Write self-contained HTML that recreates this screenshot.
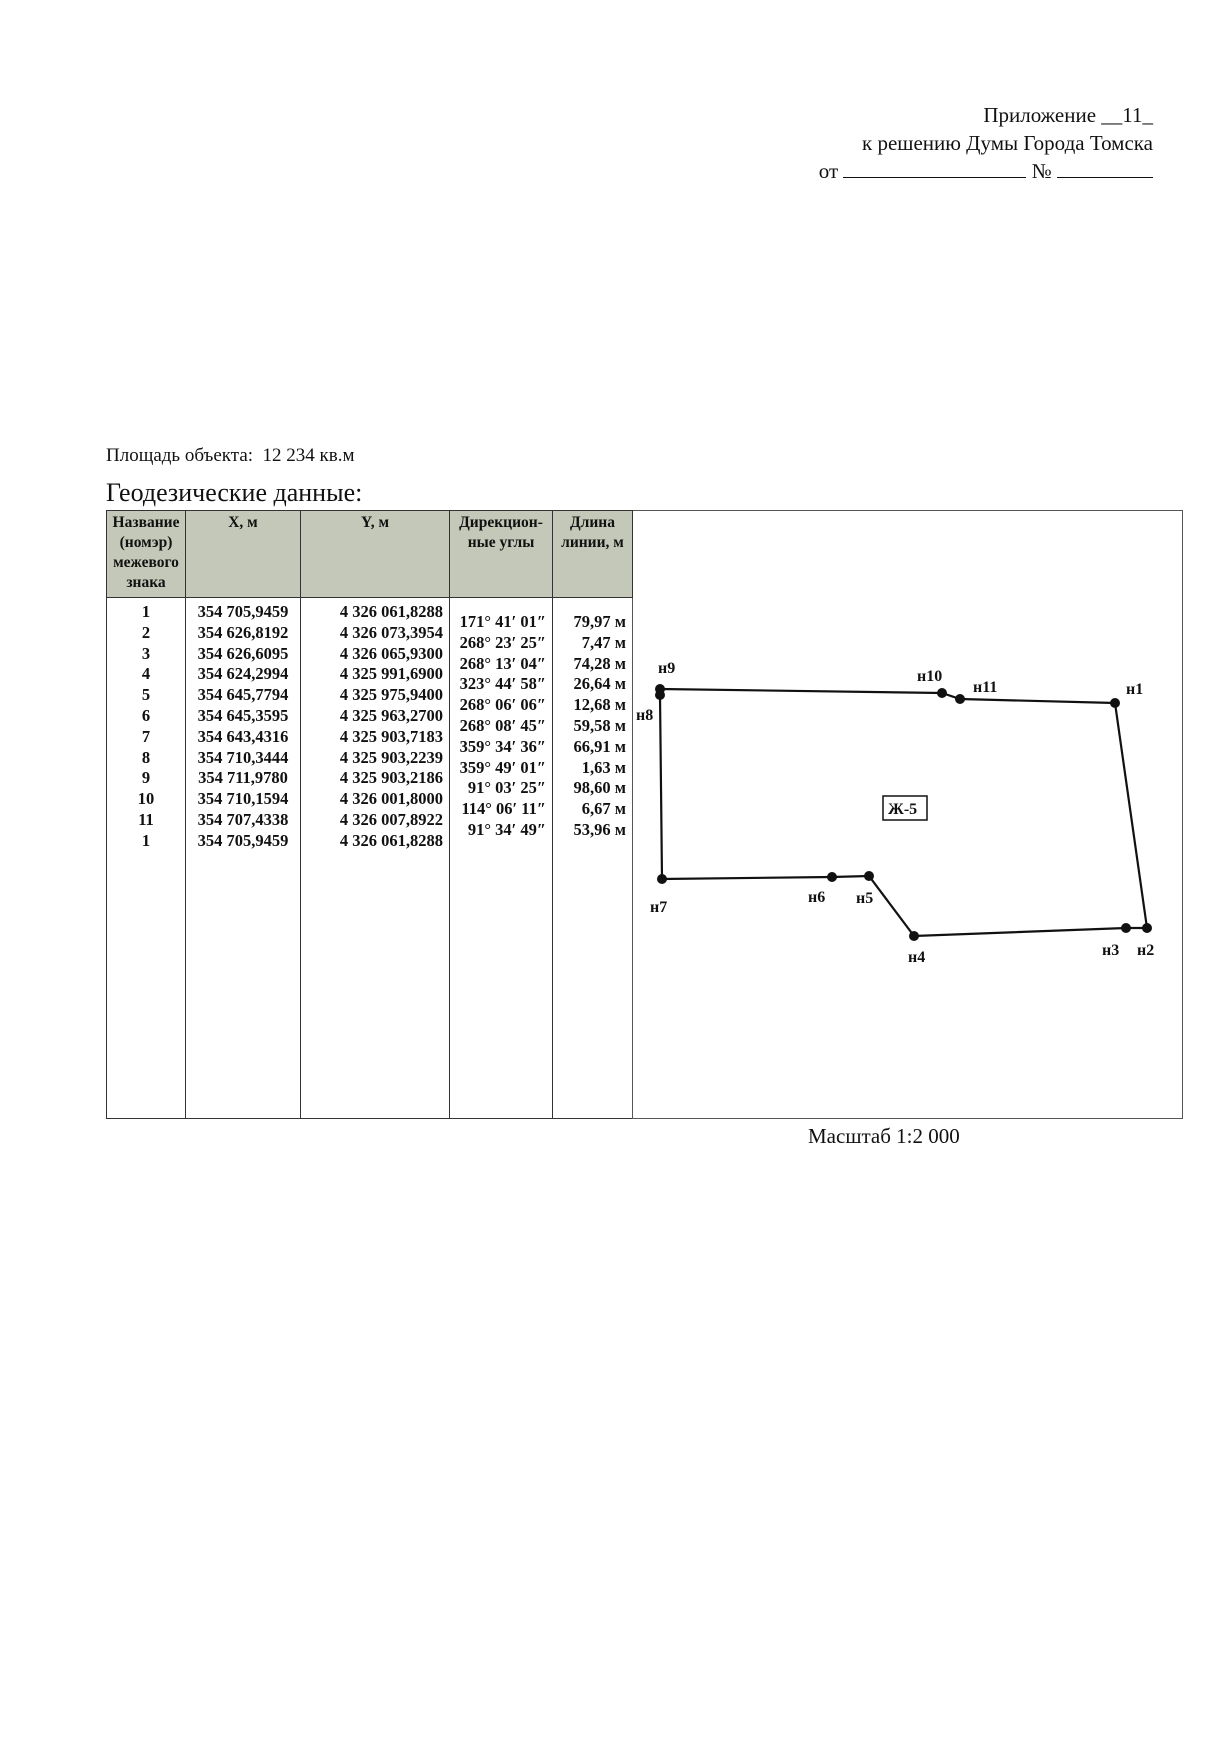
<!DOCTYPE html>
<html><head><meta charset="utf-8"><style>
body{margin:0;width:1229px;height:1750px;background:#fff;position:relative;font-family:"Liberation Serif","Noto Serif CJK SC",serif;color:#111;overflow:hidden}
.a{position:absolute;white-space:nowrap}
.hd{position:absolute;right:76px;font-size:21px;text-align:right}
table{position:absolute;left:106px;top:510px;border-collapse:collapse;font-size:16.5px;font-weight:bold}
td{border:1.5px solid #333;vertical-align:top;padding:0}
th{border:1.5px solid #333;background:#c4c8b8;font-weight:bold;font-size:15.5px;vertical-align:top;height:84px;line-height:20px;padding:2px 0 0}
.c{text-align:center;line-height:20.8px}
</style></head><body>
<div class="hd" style="top:103px">Приложение __11_</div>
<div class="hd" style="top:131px">к решению Думы Города Томска</div>
<div class="hd" style="top:159px">от <span style="display:inline-block;width:183px;border-bottom:1.5px solid #111"></span> № <span style="display:inline-block;width:96px;border-bottom:1.5px solid #111"></span></div>
<div class="a" style="left:106px;top:445px;font-size:19px">Площадь объекта: &nbsp;12 234 кв.м</div>
<div class="a" style="left:106px;top:478px;font-size:26px">Геодезические данные:</div>
<table>
<tr><th style="width:78px">Название (номэр) межевого знака</th><th style="width:114px">X, м</th><th style="width:148px">Y, м</th><th style="width:102px">Дирекцион-ные углы</th><th style="width:79px">Длина линии, м</th><td rowspan="2" style="width:549px;border-color:#555"></td></tr>
<tr><td class="c" style="height:516px;padding-top:4px">1<br>2<br>3<br>4<br>5<br>6<br>7<br>8<br>9<br>10<br>11<br>1</td>
<td class="c" style="padding-top:4px">354 705,9459<br>354 626,8192<br>354 626,6095<br>354 624,2994<br>354 645,7794<br>354 645,3595<br>354 643,4316<br>354 710,3444<br>354 711,9780<br>354 710,1594<br>354 707,4338<br>354 705,9459</td>
<td style="text-align:right;padding:4px 6px 0 0;line-height:20.8px">4 326 061,8288<br>4 326 073,3954<br>4 326 065,9300<br>4 325 991,6900<br>4 325 975,9400<br>4 325 963,2700<br>4 325 903,7183<br>4 325 903,2239<br>4 325 903,2186<br>4 326 001,8000<br>4 326 007,8922<br>4 326 061,8288</td>
<td style="text-align:right;padding:14px 6px 0 0;line-height:20.8px">171° 41′ 01″<br>268° 23′ 25″<br>268° 13′ 04″<br>323° 44′ 58″<br>268° 06′ 06″<br>268° 08′ 45″<br>359° 34′ 36″<br>359° 49′ 01″<br>91° 03′ 25″<br>114° 06′ 11″<br>91° 34′ 49″</td>
<td style="text-align:right;padding:14px 6px 0 0;line-height:20.8px">79,97 м<br>7,47 м<br>74,28 м<br>26,64 м<br>12,68 м<br>59,58 м<br>66,91 м<br>1,63 м<br>98,60 м<br>6,67 м<br>53,96 м</td></tr>
</table>
<svg class="a" style="left:0;top:0" width="1229" height="1750">
<polygon points="660,689 942,693 960,699 1115,703 1147,928 1126,928 914,936 869,876 832,877 662,879 660,695" fill="none" stroke="#111" stroke-width="2.2"/>
<g fill="#111"><circle cx="660" cy="689" r="5"/><circle cx="660" cy="695" r="5"/><circle cx="942" cy="693" r="5"/><circle cx="960" cy="699" r="5"/><circle cx="1115" cy="703" r="5"/><circle cx="1147" cy="928" r="5"/><circle cx="1126" cy="928" r="5"/><circle cx="914" cy="936" r="5"/><circle cx="869" cy="876" r="5"/><circle cx="832" cy="877" r="5"/><circle cx="662" cy="879" r="5"/></g>
<g font-family="Liberation Serif,serif" font-weight="bold" font-size="16" fill="#111">
<text x="658" y="673">н9</text><text x="636" y="720">н8</text><text x="917" y="681">н10</text><text x="973" y="692">н11</text><text x="1126" y="694">н1</text>
<text x="650" y="912">н7</text><text x="808" y="902">н6</text><text x="856" y="903">н5</text><text x="908" y="962">н4</text><text x="1102" y="955">н3</text><text x="1137" y="955">н2</text>
<rect x="883" y="796" width="44" height="24" fill="none" stroke="#111" stroke-width="1.5"/><text x="888" y="814">Ж-5</text></g>
</svg>
<div class="a" style="left:808px;top:1124px;font-size:21px">Масштаб 1:2 000</div>
</body></html>
